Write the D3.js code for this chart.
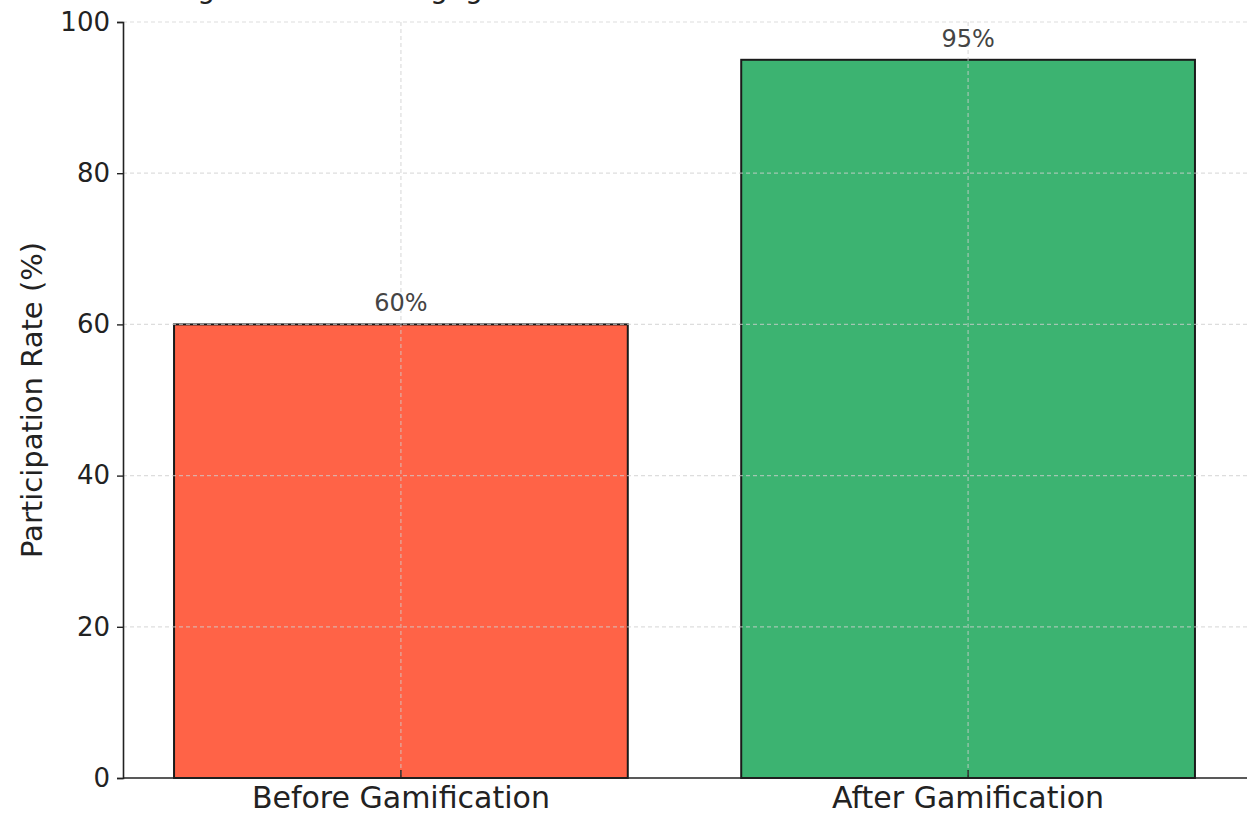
<!DOCTYPE html>
<html>
<head>
<meta charset="utf-8">
<script src="https://cdn.jsdelivr.net/npm/d3@7"></script>
<style>
  body { margin: 0; background: #fff; }
  svg { display: block; font-family: "DejaVu Sans", sans-serif; }
</style>
</head>
<body>
<div id="viz"></div>
<script>
// chart data
var categories = ["Before Gamification", "After Gamification"];
var rates = [60, 95];
var barColors = ["#FF6347", "#3CB371"];
var yTicks = [0, 20, 40, 60, 80, 100];
var titleText = "Change in Student Engagement with Gamification";

var W = 1247, H = 816;
var padL = 123, padR = 1246, padT = 22, padB = 778;

var svg = d3.select("#viz")
  .append("svg")
  .attr("width", W)
  .attr("height", H);

var x = d3.scaleBand()
  .domain(categories)
  .range([padL, padR])
  .paddingInner(0.2)
  .paddingOuter(0.09);

var y = d3.scaleLinear()
  .domain([0, 100])
  .range([padB, padT]);

// title: only the descenders show, cut at the top like the reference
svg.append("text")
  .attr("x", 125)
  .attr("y", -2)
  .attr("font-size", 28)
  .attr("fill", "#222")
  .text(titleText);

// bars
svg.selectAll("rect.bar")
  .data(rates)
  .enter().append("rect")
  .attr("class", "bar")
  .attr("x", function(d, i) { return x(categories[i]); })
  .attr("y", function(d) { return y(d); })
  .attr("width", x.bandwidth())
  .attr("height", function(d) { return y(0) - y(d); })
  .attr("fill", function(d, i) { return barColors[i]; })
  .attr("stroke", "#1a1a1a")
  .attr("stroke-width", 2);

// grid on top, faint dashed
var grid = svg.append("g")
  .attr("stroke", "#cfcfcf")
  .attr("stroke-opacity", 0.7)
  .attr("stroke-width", 1.2)
  .attr("stroke-dasharray", "4,3");

grid.selectAll("line.h")
  .data(yTicks.slice(1))
  .enter().append("line")
  .attr("x1", padL).attr("x2", W)
  .attr("y1", function(d) { return y(d); })
  .attr("y2", function(d) { return y(d); });

grid.selectAll("line.v")
  .data(categories)
  .enter().append("line")
  .attr("x1", function(d) { return x(d) + x.bandwidth() / 2; })
  .attr("x2", function(d) { return x(d) + x.bandwidth() / 2; })
  .attr("y1", padT).attr("y2", padB);

// value labels
svg.selectAll("text.val")
  .data(rates)
  .enter().append("text")
  .attr("class", "val")
  .attr("x", function(d, i) { return x(categories[i]) + x.bandwidth() / 2; })
  .attr("y", function(d) { return y(d) - 13; })
  .attr("text-anchor", "middle")
  .attr("font-size", 24)
  .attr("fill", "#444")
  .text(function(d) { return d + "%"; });

// y axis
var yAxis = svg.append("g")
  .attr("transform", "translate(" + padL + ",0)")
  .call(d3.axisLeft(y).tickValues(yTicks).tickSize(6).tickPadding(7));
yAxis.select(".domain").attr("stroke", "#222").attr("stroke-width", 1.6);
yAxis.selectAll(".tick line").attr("stroke", "#222").attr("stroke-width", 1.4);
yAxis.selectAll(".tick text")
  .attr("font-size", 26)
  .attr("fill", "#222")
  .attr("font-family", "DejaVu Sans, sans-serif");

// x axis
var xAxis = svg.append("g")
  .attr("transform", "translate(0," + padB + ")")
  .call(d3.axisBottom(x).tickSize(0).tickPadding(9));
xAxis.select(".domain").attr("d", "M" + padL + ",0H" + W)
  .attr("stroke", "#222").attr("stroke-width", 1.6);
xAxis.selectAll(".tick text")
  .attr("font-size", 30)
  .attr("fill", "#222")
  .attr("font-family", "DejaVu Sans, sans-serif");
xAxis.selectAll(".tick").append("line")
  .attr("y1", 0).attr("y2", -8)
  .attr("stroke", "#222").attr("stroke-width", 1.4);

// y label
svg.append("text")
  .attr("transform", "translate(42," + ((padT + padB) / 2) + ") rotate(-90)")
  .attr("text-anchor", "middle")
  .attr("font-size", 29)
  .attr("fill", "#222")
  .text("Participation Rate (%)");
</script>
</body>
</html>
